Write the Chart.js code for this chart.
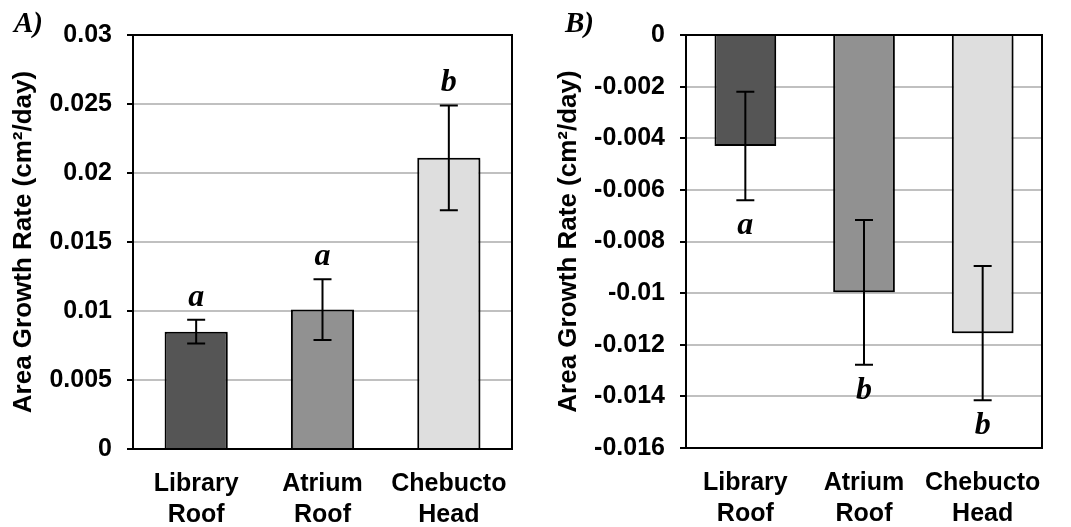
<!DOCTYPE html>
<html>
<head>
<meta charset="utf-8">
<script src="https://cdn.jsdelivr.net/npm/chart.js@4.4.0/dist/chart.umd.min.js"></script>
<style>
  html, body { margin: 0; padding: 0; background: #fff; }
  #wrapA { position: absolute; left: 0; top: 0; width: 545px; height: 527px; }
  #wrapB { position: absolute; left: 545px; top: 0; width: 526px; height: 527px; }
</style>
</head>
<body>
<div id="wrapA"><canvas id="chartA"></canvas></div>
<div id="wrapB"><canvas id="chartB"></canvas></div>
<script>
// sites (two-line labels) and bar fills
const sites = [['Library', 'Roof'], ['Atrium', 'Roof'], ['Chebucto', 'Head']];
const barColors = ['#555555', '#919191', '#dedede'];

// panel A
const growthA = [0.0085, 0.0101, 0.0211];
const errorA = [0.00086, 0.0022, 0.0038];
const lettersA = ['a', 'a', 'b'];
const tickValuesA = [0, 0.005, 0.01, 0.015, 0.02, 0.025, 0.03];
const tickLabelsA = ['0', '0.005', '0.01', '0.015', '0.02', '0.025', '0.03'];

// panel B
const growthB = [-0.0043, -0.00997, -0.01155];
const errorB = [0.0021, 0.0028, 0.0026];
const lettersB = ['a', 'b', 'b'];
const tickValuesB = [-0.016, -0.014, -0.012, -0.01, -0.008, -0.006, -0.004, -0.002, 0];
const tickLabelsB = ['-0.016', '-0.014', '-0.012', '-0.01', '-0.008', '-0.006', '-0.004', '-0.002', '0'];

const sansFamily = "'Liberation Sans', Arial, sans-serif";
const sansBold = { family: sansFamily, size: 25, weight: 'bold' };
const serifLetter = "italic bold 32px 'Liberation Serif', 'Times New Roman', serif";

// frame, error bars, significance letters and panel label
const extras = {
  id: 'extras',
  beforeDatasetsDraw(chart) {
    const ctx = chart.ctx;
    ctx.save();
    ctx.shadowColor = 'rgba(0,0,0,0.25)';
    ctx.shadowOffsetX = 2;
    ctx.shadowOffsetY = 2;
    ctx.shadowBlur = 2;
  },
  afterDatasetsDraw(chart, args, opts) {
    const ctx = chart.ctx;
    ctx.restore();
    const area = chart.chartArea;
    const y = chart.scales.y;
    const values = chart.data.datasets[0].data;

    ctx.save();
    ctx.strokeStyle = '#000';
    ctx.lineWidth = 2;
    ctx.beginPath();
    ctx.moveTo(area.left, area.top);
    ctx.lineTo(area.right, area.top);
    ctx.lineTo(area.right, area.bottom);
    ctx.stroke();

    ctx.font = serifLetter;
    ctx.fillStyle = '#000';
    ctx.textAlign = 'center';
    ctx.textBaseline = 'alphabetic';
    chart.getDatasetMeta(0).data.forEach((bar, i) => {
      const hi = y.getPixelForValue(values[i] + opts.errors[i]);
      const lo = y.getPixelForValue(values[i] - opts.errors[i]);
      ctx.beginPath();
      ctx.moveTo(bar.x, hi); ctx.lineTo(bar.x, lo);
      ctx.moveTo(bar.x - 9, hi); ctx.lineTo(bar.x + 9, hi);
      ctx.moveTo(bar.x - 9, lo); ctx.lineTo(bar.x + 9, lo);
      ctx.stroke();
      if (opts.letterSide === 'above') {
        ctx.fillText(opts.letters[i], bar.x, hi - 14);
      } else {
        ctx.fillText(opts.letters[i], bar.x, lo + 34);
      }
    });

    ctx.font = "italic bold 29px 'Liberation Serif', 'Times New Roman', serif";
    ctx.textAlign = 'left';
    ctx.fillText(opts.panel, opts.panelX, 32);
    ctx.restore();
  }
};

function makeChart(id, values, errors, letters, tickValues, tickLabels, cfg) {
  return new Chart(document.getElementById(id), {
    type: 'bar',
    data: {
      labels: sites,
      datasets: [{
        data: values,
        backgroundColor: barColors,
        borderColor: '#000',
        borderWidth: 2,
        categoryPercentage: 1,
        barPercentage: cfg.barPct
      }]
    },
    options: {
      responsive: true,
      maintainAspectRatio: false,
      animation: false,
      layout: { padding: { top: 35, right: cfg.padRight, bottom: 0, left: 0 } },
      plugins: {
        legend: { display: false },
        tooltip: { enabled: false },
        extras: {
          errors: errors,
          letters: letters,
          letterSide: cfg.letterSide,
          panel: cfg.panel,
          panelX: cfg.panelX
        }
      },
      scales: {
        x: {
          grid: { display: false },
          border: { display: true, color: '#000', width: 2 },
          ticks: {
            color: '#000',
            font: { ...sansBold, lineHeight: 1.22 },
            padding: 12,
            maxRotation: 0,
            autoSkip: false
          },
          afterFit: scale => { scale.height = cfg.xHeight; }
        },
        y: {
          min: tickValues[0],
          max: tickValues[tickValues.length - 1],
          afterBuildTicks: scale => { scale.ticks = tickValues.map(v => ({ value: v })); },
          grid: { color: '#c0c0c0', lineWidth: 2, tickLength: 6, tickColor: '#000', tickWidth: 2 },
          border: { display: true, color: '#000', width: 2 },
          ticks: {
            color: '#000',
            font: sansBold,
            padding: 15,
            callback: (value, index) => tickLabels[index]
          },
          title: {
            display: true,
            text: 'Area Growth Rate (cm\u00B2/day)',
            color: '#000',
            font: { family: sansFamily, size: 26, weight: 'bold' },
            padding: { top: 8, bottom: 0 }
          },
          afterFit: scale => { scale.width = cfg.axisWidth; }
        }
      }
    },
    plugins: [extras]
  });
}

makeChart('chartA', growthA, errorA, lettersA, tickValuesA, tickLabelsA,
  { barPct: 0.5, padRight: 33, axisWidth: 133, xHeight: 78, letterSide: 'above', panel: 'A)', panelX: 14 });
makeChart('chartB', growthB, errorB, lettersB, tickValuesB, tickLabelsB,
  { barPct: 0.52, padRight: 29, axisWidth: 141, xHeight: 79, letterSide: 'below', panel: 'B)', panelX: 20 });
</script>
</body>
</html>
